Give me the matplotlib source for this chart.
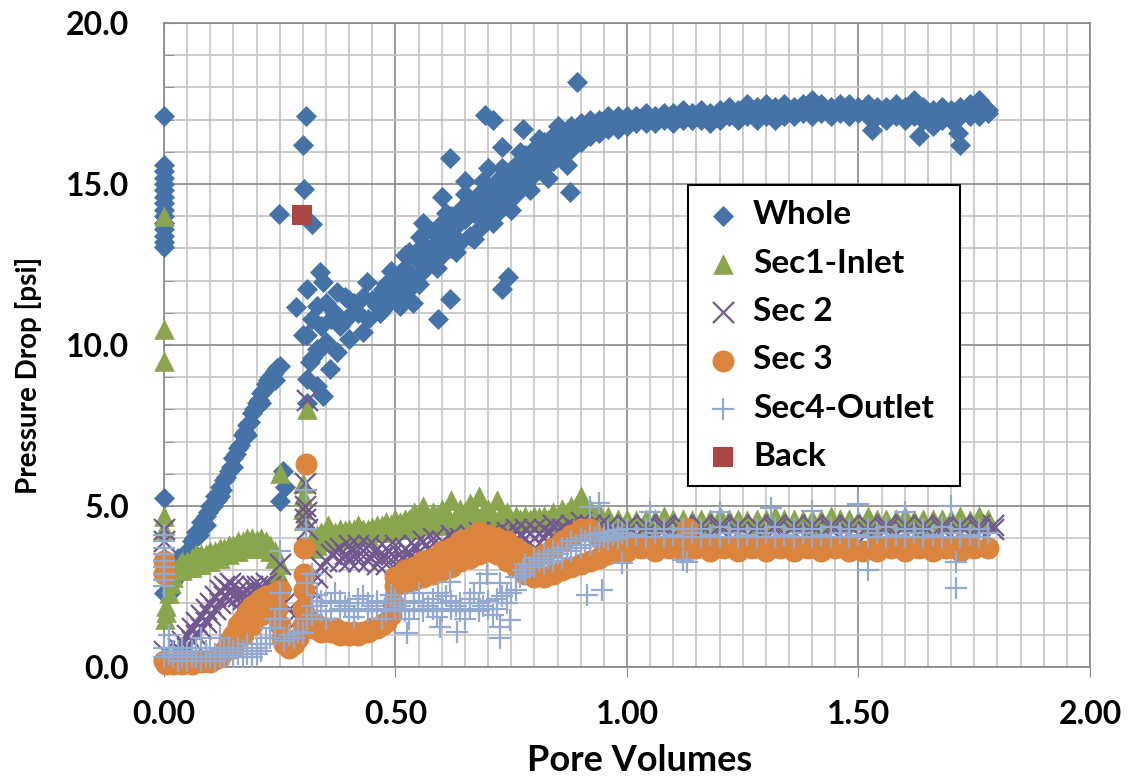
import matplotlib.pyplot as plt
from matplotlib.ticker import MultipleLocator, FormatStrFormatter

# ---- data: (pore volumes, pressure drop psi) ----
whole = [
    # column at x = 0
    (0, 17.1), (0, 15.6), (0, 15.4), (0, 15.2), (0, 15.0), (0, 14.8), (0, 14.6), (0, 14.4), (0, 14.2),
    (0, 14.0), (0, 13.8), (0, 13.6), (0, 13.4), (0, 13.2), (0, 13.05), (0, 5.25), (0, 3.4), (0, 2.3),
    # first ramp
    (0.012, 2.3), (0.018, 2.6), (0.022, 2.9), (0.028, 2.8), (0.032, 3.1), (0.036, 3.0), (0.040, 3.3),
    (0.045, 3.3), (0.050, 3.6), (0.055, 3.6), (0.060, 3.9), (0.065, 4.0), (0.070, 4.2), (0.075, 4.1),
    (0.080, 4.5), (0.085, 4.4), (0.090, 4.7), (0.095, 4.8), (0.100, 5.0), (0.105, 5.0), (0.110, 5.3),
    (0.115, 5.2), (0.120, 5.6), (0.125, 5.5), (0.130, 5.8), (0.135, 5.9), (0.140, 6.1), (0.145, 6.2),
    (0.150, 6.5), (0.155, 6.6), (0.160, 6.8), (0.165, 6.9), (0.170, 7.2), (0.175, 7.3), (0.180, 7.5),
    (0.185, 7.6), (0.190, 7.9), (0.195, 8.0), (0.200, 8.2), (0.205, 8.3), (0.210, 8.5), (0.215, 8.6),
    (0.220, 8.8), (0.225, 8.9), (0.230, 9.0), (0.235, 9.1), (0.240, 9.2), (0.245, 9.3), (0.250, 9.35),
    (0.03, 3.4), (0.06, 3.6), (0.09, 4.4), (0.12, 5.3), (0.15, 6.2), (0.18, 7.2), (0.21, 8.2), (0.24, 8.9),
    # around 0.25 - 0.3
    (0.257, 6.1), (0.261, 5.6), (0.250, 5.15), (0.249, 14.08),
    (0.306, 17.1), (0.300, 16.2), (0.302, 14.86), (0.320, 13.77), (0.337, 12.27),
    (0.286, 11.17), (0.308, 10.3), (0.308, 11.74), (0.344, 11.96), (0.373, 11.64), (0.400, 11.4),
    (0.438, 11.95), (0.473, 11.74), (0.300, 10.3), (0.315, 9.46), (0.308, 8.94), (0.344, 8.42),
    (0.330, 8.73), (0.358, 9.25), (0.373, 9.77), (0.400, 10.2), (0.430, 10.4), (0.330, 9.88), (0.309, 8.2),
    (0.36, 10.8), (0.38, 10.6), (0.40, 10.9), (0.42, 11.0), (0.44, 10.8), (0.46, 11.2), (0.35, 11.3),
    (0.37, 11.0), (0.39, 11.5), (0.41, 11.3), (0.43, 11.5), (0.45, 11.4), (0.47, 11.6), (0.34, 10.6),
    (0.32, 10.8), (0.33, 11.2), (0.35, 10.1), (0.32, 9.6), (0.34, 9.9),
    # main rise
    (0.48, 11.2), (0.48, 11.9), (0.49, 11.7), (0.50, 11.4), (0.50, 12.1), (0.51, 11.9), (0.52, 11.6),
    (0.52, 12.4), (0.53, 12.2), (0.54, 11.9), (0.54, 12.8), (0.55, 12.6), (0.56, 12.3), (0.56, 13.1),
    (0.57, 12.9), (0.58, 12.6), (0.58, 13.5), (0.59, 13.2), (0.60, 12.8), (0.60, 13.8), (0.61, 13.4),
    (0.62, 13.0), (0.62, 14.0), (0.63, 13.7), (0.64, 13.2), (0.64, 14.2), (0.65, 13.9), (0.66, 13.4),
    (0.66, 14.5), (0.67, 14.1), (0.68, 13.6), (0.68, 14.7), (0.69, 14.3), (0.70, 13.9), (0.70, 14.9),
    (0.71, 14.5), (0.72, 14.1), (0.72, 15.1), (0.73, 14.8), (0.74, 14.4), (0.74, 15.3), (0.75, 15.0),
    (0.76, 14.7), (0.76, 15.6), (0.77, 15.3), (0.78, 15.0), (0.78, 15.9), (0.79, 15.6), (0.80, 15.3),
    (0.80, 16.1), (0.81, 15.8), (0.82, 15.5), (0.82, 16.3), (0.83, 16.0), (0.84, 15.7), (0.84, 16.5),
    (0.85, 16.2), (0.86, 15.9), (0.86, 16.6), (0.87, 16.4), (0.88, 16.1), (0.88, 16.8), (0.89, 16.5),
    (0.90, 16.3), (0.90, 16.9), (0.91, 16.7), (0.92, 16.5), (0.92, 17.0), (0.93, 16.8), (0.94, 16.6),
    (0.94, 17.0), (0.95, 16.9), (0.96, 16.7), (0.96, 17.1), (0.97, 16.9), (0.98, 16.7), (0.98, 17.1),
    (0.99, 16.9), (1.00, 16.8), (1.00, 17.1),
    (0.49, 12.3), (0.53, 12.9), (0.57, 13.6), (0.61, 14.1), (0.65, 14.7), (0.69, 15.1), (0.73, 15.5),
    (0.77, 16.0), (0.81, 16.4), (0.85, 16.8), (0.51, 11.2), (0.55, 11.9), (0.59, 12.4), (0.63, 12.9),
    (0.67, 13.3), (0.71, 13.8), (0.75, 14.2), (0.79, 14.8), (0.83, 15.2), (0.87, 15.6),
    # scattered points
    (0.538, 11.3), (0.553, 13.35), (0.592, 10.8), (0.617, 11.43), (0.617, 15.8), (0.693, 17.14),
    (0.70, 15.5), (0.729, 16.16), (0.729, 11.74), (0.743, 12.1), (0.776, 16.7), (0.877, 14.75),
    (0.891, 18.18), (0.466, 11.0), (0.71, 17.0), (0.60, 14.6), (0.65, 15.1), (0.56, 13.8), (0.52, 12.8),
    # plateau
    (1.02, 16.9), (1.02, 17.1), (1.04, 16.9), (1.04, 17.2), (1.06, 16.9), (1.06, 17.1), (1.08, 17.0),
    (1.08, 17.2), (1.10, 16.9), (1.10, 17.2), (1.12, 17.0), (1.12, 17.3), (1.14, 17.0), (1.14, 17.2),
    (1.16, 17.0), (1.16, 17.3), (1.18, 16.9), (1.18, 17.2), (1.20, 17.0), (1.20, 17.3), (1.22, 17.1),
    (1.22, 17.4), (1.24, 17.0), (1.24, 17.3), (1.26, 17.1), (1.26, 17.5), (1.28, 17.0), (1.28, 17.4),
    (1.30, 17.1), (1.30, 17.5), (1.32, 17.0), (1.32, 17.4), (1.34, 17.1), (1.34, 17.5), (1.36, 17.1),
    (1.36, 17.4), (1.38, 17.2), (1.38, 17.5), (1.40, 17.1), (1.40, 17.6), (1.42, 17.2), (1.42, 17.5),
    (1.44, 17.1), (1.44, 17.4), (1.46, 17.2), (1.46, 17.5), (1.48, 17.1), (1.48, 17.5), (1.50, 17.2),
    (1.50, 17.4), (1.52, 17.1), (1.52, 17.5), (1.54, 17.1), (1.54, 17.4), (1.56, 17.0), (1.56, 17.4),
    (1.58, 17.1), (1.58, 17.5), (1.60, 17.0), (1.60, 17.4), (1.62, 17.1), (1.62, 17.6), (1.64, 17.0),
    (1.64, 17.4), (1.66, 16.9), (1.66, 17.3), (1.68, 17.0), (1.68, 17.4), (1.70, 17.0), (1.70, 17.3),
    (1.72, 17.1), (1.72, 17.4), (1.74, 17.1), (1.74, 17.5), (1.76, 17.1), (1.76, 17.6), (1.78, 17.2),
    (1.78, 17.3),
    (1.53, 16.67), (1.63, 16.5), (1.72, 16.2), (1.715, 16.6), (1.66, 16.8),
]

sec1 = [
    (0, 14.0), (0, 10.5), (0, 9.5), (0, 4.7), (0, 4.3), (0.002, 1.5), (0.004, 1.7), (0.005, 1.9),
    (0.010, 2.3), (0.015, 2.6), (0.020, 2.8), (0.025, 3.0), (0.030, 3.1), (0.035, 3.2),
    (0.04, 3.0), (0.04, 3.3), (0.05, 3.1), (0.05, 3.3), (0.06, 3.1), (0.06, 3.4), (0.07, 3.2), (0.07, 3.5),
    (0.08, 3.2), (0.08, 3.5), (0.09, 3.3), (0.09, 3.5), (0.10, 3.3), (0.10, 3.6), (0.11, 3.4), (0.11, 3.6),
    (0.12, 3.4), (0.12, 3.7), (0.13, 3.5), (0.13, 3.7), (0.14, 3.5), (0.14, 3.8), (0.15, 3.6), (0.15, 3.8),
    (0.16, 3.6), (0.16, 3.9), (0.17, 3.7), (0.17, 3.9), (0.18, 3.7), (0.18, 4.0), (0.19, 3.7), (0.19, 4.0),
    (0.20, 3.8), (0.20, 3.95), (0.21, 3.8), (0.21, 4.0), (0.22, 3.7), (0.22, 3.9), (0.23, 3.6), (0.23, 3.8),
    (0.24, 3.4), (0.24, 3.6),
    (0.250, 6.04), (0.255, 2.7), (0.250, 3.2), (0.245, 2.9),
    (0.308, 8.0), (0.300, 5.7), (0.300, 5.3), (0.300, 4.9), (0.302, 4.58),
    (0.32, 3.7), (0.32, 4.0), (0.33, 3.8), (0.33, 4.1), (0.34, 3.9), (0.34, 4.2), (0.35, 3.9), (0.355, 4.4),
    (0.36, 4.0), (0.36, 4.2), (0.38, 4.0), (0.38, 4.3), (0.40, 4.0), (0.40, 4.3), (0.42, 4.1), (0.42, 4.4),
    (0.44, 4.1), (0.44, 4.3), (0.46, 4.2), (0.46, 4.4), (0.48, 4.2), (0.48, 4.5), (0.50, 4.3), (0.50, 4.6),
    (0.52, 4.3), (0.52, 4.6), (0.54, 4.3), (0.54, 4.8), (0.56, 4.4), (0.56, 5.0), (0.58, 4.4), (0.58, 4.8),
    (0.60, 4.4), (0.60, 4.9), (0.62, 4.5), (0.62, 5.2), (0.64, 4.5), (0.64, 4.9), (0.66, 4.5), (0.66, 5.1),
    (0.68, 4.6), (0.68, 5.3), (0.70, 4.5), (0.70, 4.9), (0.72, 4.5), (0.72, 5.2), (0.74, 4.5), (0.74, 4.8),
    (0.76, 4.5), (0.76, 4.7), (0.78, 4.5), (0.78, 4.7), (0.80, 4.5), (0.80, 4.7), (0.82, 4.6), (0.82, 4.7),
    (0.84, 4.5), (0.84, 4.8), (0.86, 4.6), (0.86, 4.9), (0.88, 4.6), (0.88, 5.0), (0.90, 4.7), (0.90, 5.3),
    (0.92, 4.6), (0.92, 4.9), (0.94, 4.6), (0.94, 4.8),
    (0.37, 4.2), (0.39, 4.25), (0.41, 4.3), (0.43, 4.3), (0.45, 4.35), (0.47, 4.4), (0.49, 4.45),
    (0.51, 4.5), (0.53, 4.6), (0.55, 4.7), (0.57, 4.6), (0.59, 4.7), (0.61, 4.8), (0.63, 4.7), (0.65, 4.8),
    (0.67, 4.9), (0.69, 4.8), (0.71, 4.7), (0.73, 4.8), (0.75, 4.6), (0.77, 4.6), (0.79, 4.6), (0.81, 4.65),
    (0.83, 4.6), (0.85, 4.7), (0.87, 4.8), (0.89, 5.0), (0.91, 4.9), (0.93, 4.7),
    (0.96, 4.5), (0.96, 4.7), (1.00, 4.5), (1.00, 4.6), (1.04, 4.4), (1.04, 4.6), (1.08, 4.5), (1.08, 4.7),
    (1.12, 4.5), (1.12, 4.6), (1.16, 4.4), (1.16, 4.6), (1.20, 4.5), (1.20, 4.7), (1.24, 4.5), (1.24, 4.6),
    (1.28, 4.4), (1.28, 4.6), (1.32, 4.5), (1.32, 4.7), (1.36, 4.5), (1.36, 4.6), (1.40, 4.4), (1.40, 4.6),
    (1.44, 4.5), (1.44, 4.7), (1.48, 4.5), (1.48, 4.6), (1.52, 4.4), (1.52, 4.7), (1.56, 4.5), (1.56, 4.6),
    (1.60, 4.5), (1.60, 4.7), (1.64, 4.4), (1.64, 4.6), (1.68, 4.5), (1.68, 4.6), (1.72, 4.5), (1.72, 4.7),
    (1.76, 4.5), (1.76, 4.7), (1.78, 4.5), (1.78, 4.6),
    (0.98, 4.6), (1.02, 4.55), (1.06, 4.6), (1.10, 4.6), (1.14, 4.55), (1.18, 4.6), (1.22, 4.6),
    (1.26, 4.55), (1.30, 4.6), (1.34, 4.6), (1.38, 4.55), (1.42, 4.6), (1.46, 4.6), (1.50, 4.55),
    (1.54, 4.6), (1.58, 4.6), (1.62, 4.55), (1.66, 4.6), (1.70, 4.6), (1.74, 4.55),
]

sec2 = [
    (0, 4.3), (0, 3.9), (0, 0.5),
    (0.03, 0.6), (0.04, 0.8), (0.05, 1.0), (0.06, 1.2), (0.07, 1.4), (0.08, 1.6), (0.09, 1.8), (0.10, 2.0),
    (0.11, 2.2), (0.12, 2.4), (0.05, 0.6), (0.06, 0.8), (0.07, 1.0), (0.08, 1.2), (0.09, 1.4), (0.10, 1.6),
    (0.11, 1.8), (0.12, 2.0),
    (0.13, 2.2), (0.13, 2.5), (0.14, 2.1), (0.14, 2.4), (0.142, 2.6), (0.15, 2.2), (0.15, 2.5), (0.16, 2.2),
    (0.16, 2.4), (0.17, 2.1), (0.17, 2.3), (0.18, 2.2), (0.18, 2.4), (0.19, 2.2), (0.19, 2.5), (0.20, 2.3),
    (0.20, 2.5), (0.21, 2.3), (0.21, 2.5), (0.22, 2.3), (0.22, 2.6), (0.23, 2.2), (0.23, 2.5), (0.24, 2.2),
    (0.24, 2.4),
    (0.25, 3.2), (0.26, 2.0), (0.27, 1.8), (0.28, 1.6), (0.29, 1.5),
    (0.308, 8.3), (0.305, 5.7), (0.305, 5.0), (0.307, 4.8), (0.305, 4.6), (0.31, 4.3),
    (0.31, 2.0), (0.32, 2.4), (0.33, 2.8), (0.34, 3.1), (0.35, 3.3), (0.36, 3.5), (0.37, 3.6),
    (0.38, 3.3), (0.38, 3.7), (0.40, 3.3), (0.40, 3.8), (0.42, 3.3), (0.42, 3.8), (0.44, 3.3), (0.44, 3.8),
    (0.46, 3.2), (0.46, 3.7), (0.48, 3.2), (0.48, 3.7), (0.50, 3.2), (0.50, 3.8), (0.52, 3.3), (0.52, 3.7),
    (0.54, 3.3), (0.54, 3.8), (0.56, 3.4), (0.56, 3.9), (0.58, 3.5), (0.58, 4.0), (0.60, 3.5), (0.60, 3.9),
    (0.62, 3.6), (0.62, 4.1), (0.64, 3.6), (0.64, 4.0), (0.66, 3.7), (0.66, 4.1), (0.68, 3.7), (0.68, 4.2),
    (0.70, 3.8), (0.70, 4.1), (0.72, 3.8), (0.72, 4.2), (0.74, 3.9), (0.74, 4.2), (0.76, 3.9), (0.76, 4.3),
    (0.78, 4.0), (0.78, 4.3), (0.80, 4.0), (0.80, 4.3), (0.82, 4.0), (0.82, 4.3), (0.84, 4.1), (0.84, 4.4),
    (0.86, 4.1), (0.86, 4.3), (0.88, 4.1), (0.88, 4.4), (0.90, 4.2), (0.90, 4.5), (0.92, 4.2), (0.92, 4.4),
    (0.94, 4.2), (0.94, 4.4),
    (0.39, 3.5), (0.41, 3.55), (0.43, 3.6), (0.45, 3.5), (0.47, 3.45), (0.49, 3.5), (0.51, 3.5),
    (0.53, 3.55), (0.55, 3.6), (0.57, 3.7), (0.59, 3.75), (0.61, 3.8), (0.63, 3.85), (0.65, 3.9),
    (0.67, 3.9), (0.69, 3.95), (0.71, 4.0), (0.73, 4.05), (0.75, 4.1), (0.77, 4.1), (0.79, 4.15),
    (0.81, 4.15), (0.83, 4.2), (0.85, 4.25), (0.87, 4.25), (0.89, 4.3), (0.91, 4.3), (0.93, 4.3),
    (0.96, 4.2), (0.96, 4.4), (1.00, 4.2), (1.00, 4.4), (1.04, 4.2), (1.04, 4.4), (1.08, 4.3), (1.08, 4.4),
    (1.12, 4.2), (1.12, 4.4), (1.16, 4.2), (1.16, 4.4), (1.20, 4.3), (1.20, 4.4), (1.24, 4.2), (1.24, 4.4),
    (1.28, 4.2), (1.28, 4.4), (1.32, 4.3), (1.32, 4.4), (1.36, 4.2), (1.36, 4.4), (1.40, 4.2), (1.40, 4.4),
    (1.44, 4.3), (1.44, 4.4), (1.48, 4.2), (1.48, 4.4), (1.52, 4.2), (1.52, 4.4), (1.56, 4.3), (1.56, 4.4),
    (1.60, 4.2), (1.60, 4.4), (1.64, 4.2), (1.64, 4.4), (1.68, 4.3), (1.68, 4.4), (1.72, 4.2), (1.72, 4.4),
    (1.76, 4.3), (1.76, 4.4), (1.79, 4.3), (1.79, 4.4),
]

sec3 = [
    (0, 3.3), (0, 2.9), (0, 0.2), (0.005, 0.1),
    (0.02, 0.1), (0.03, 0.2), (0.04, 0.1), (0.05, 0.2), (0.06, 0.1), (0.07, 0.2), (0.08, 0.15), (0.09, 0.2),
    (0.10, 0.15), (0.11, 0.25), (0.12, 0.3),
    (0.13, 0.5), (0.14, 0.8), (0.15, 1.0), (0.16, 1.3), (0.17, 1.5), (0.18, 1.7), (0.19, 1.9), (0.20, 2.0),
    (0.21, 2.1), (0.22, 2.2), (0.23, 2.2), (0.24, 2.3), (0.25, 2.4),
    (0.15, 0.6), (0.17, 1.0), (0.19, 1.3), (0.21, 1.6), (0.23, 1.8),
    (0.245, 1.8), (0.25, 1.3), (0.255, 0.9), (0.26, 0.7), (0.27, 0.6), (0.28, 0.7), (0.29, 0.9), (0.30, 1.3),
    (0.30, 1.8), (0.302, 2.4), (0.302, 2.9), (0.302, 3.7), (0.306, 6.3),
    (0.31, 1.5), (0.32, 1.2), (0.33, 1.3), (0.34, 1.1), (0.35, 1.2), (0.36, 1.1), (0.37, 1.2), (0.38, 1.0),
    (0.39, 1.1), (0.40, 1.0), (0.41, 1.1), (0.42, 1.0), (0.43, 1.1), (0.44, 1.1), (0.45, 1.2), (0.46, 1.2),
    (0.47, 1.3), (0.48, 1.4), (0.49, 1.6), (0.495, 2.0),
    (0.50, 2.5), (0.50, 2.8), (0.52, 2.6), (0.52, 3.0), (0.54, 2.7), (0.54, 3.1), (0.56, 2.8), (0.56, 3.3),
    (0.58, 2.9), (0.58, 3.4), (0.60, 3.0), (0.60, 3.6), (0.62, 3.1), (0.62, 3.7), (0.64, 3.3), (0.64, 3.9),
    (0.66, 3.4), (0.66, 4.0), (0.68, 3.5), (0.68, 4.2), (0.70, 3.6), (0.70, 4.1), (0.72, 3.5), (0.72, 4.0),
    (0.74, 3.3), (0.74, 3.9), (0.76, 3.1), (0.76, 3.7), (0.78, 2.9), (0.78, 3.5), (0.80, 2.8), (0.80, 3.4),
    (0.82, 2.8), (0.82, 3.5), (0.84, 2.9), (0.84, 3.7), (0.86, 3.0), (0.86, 3.9), (0.88, 3.1), (0.88, 4.1),
    (0.90, 3.2), (0.90, 4.3), (0.92, 3.3), (0.92, 4.3), (0.94, 3.4), (0.94, 4.0), (0.96, 3.5), (0.96, 3.8),
    (0.98, 3.6), (0.98, 3.8), (1.13, 4.3),
    (0.51, 2.75), (0.53, 2.9), (0.55, 3.0), (0.57, 3.2), (0.59, 3.3), (0.61, 3.45), (0.63, 3.6),
    (0.65, 3.75), (0.67, 3.85), (0.69, 3.95), (0.71, 3.85), (0.73, 3.7), (0.75, 3.5), (0.77, 3.3),
    (0.79, 3.15),
    (1.00, 3.6), (1.00, 3.8), (1.03, 3.7), (1.06, 3.6), (1.06, 3.8), (1.09, 3.7), (1.12, 3.6), (1.12, 3.8),
    (1.15, 3.7), (1.18, 3.6), (1.18, 3.8), (1.21, 3.7), (1.24, 3.6), (1.24, 3.8), (1.27, 3.7), (1.30, 3.6),
    (1.30, 3.8), (1.33, 3.7), (1.36, 3.6), (1.36, 3.8), (1.39, 3.7), (1.42, 3.6), (1.42, 3.8), (1.45, 3.7),
    (1.48, 3.6), (1.48, 3.8), (1.51, 3.6), (1.54, 3.6), (1.54, 3.8), (1.57, 3.7), (1.60, 3.6), (1.60, 3.8),
    (1.63, 3.7), (1.66, 3.6), (1.66, 3.8), (1.69, 3.7), (1.72, 3.6), (1.72, 3.8), (1.75, 3.7), (1.78, 3.7),
]

sec4 = [
    (0, 4.1), (0, 3.9), (0, 3.7), (0, 3.5), (0, 3.3), (0, 3.1), (0, 2.9), (0, 2.7), (0, 2.5),
    (0.00, 0.3), (0.00, 0.6), (0.01, 0.4), (0.01, 1.0), (0.02, 0.3), (0.02, 0.5), (0.03, 0.2), (0.03, 0.5),
    (0.04, 0.3), (0.04, 0.6), (0.05, 0.2), (0.05, 0.4), (0.06, 0.3), (0.06, 0.5), (0.07, 0.3), (0.07, 0.6),
    (0.08, 0.2), (0.08, 0.9), (0.09, 0.3), (0.09, 0.5), (0.10, 0.3), (0.10, 0.6), (0.11, 0.2), (0.11, 0.4),
    (0.12, 0.3), (0.12, 0.9), (0.13, 0.3), (0.13, 0.5), (0.14, 0.4), (0.14, 0.6), (0.15, 0.3), (0.15, 0.5),
    (0.16, 0.4), (0.16, 0.6), (0.17, 0.3), (0.17, 0.5), (0.18, 0.4), (0.18, 0.7), (0.19, 0.3), (0.19, 0.5),
    (0.20, 0.4), (0.20, 0.6), (0.21, 0.5), (0.21, 0.7), (0.22, 0.7), (0.22, 0.9), (0.23, 0.9), (0.23, 1.2),
    (0.24, 1.2), (0.24, 1.5), (0.25, 1.5), (0.25, 1.8), (0.25, 2.3), (0.25, 3.6),
    (0.26, 0.8), (0.27, 1.0), (0.28, 0.9), (0.29, 1.1),
    (0.306, 5.5), (0.306, 4.27), (0.319, 2.9), (0.31, 2.6), (0.33, 2.24), (0.30, 1.05), (0.31, 1.5),
    (0.32, 1.6), (0.32, 1.9), (0.34, 1.75), (0.34, 2.05), (0.36, 1.75), (0.36, 2.0), (0.38, 1.8), (0.38, 2.05),
    (0.40, 1.75), (0.40, 2.0), (0.42, 1.8), (0.42, 2.1), (0.44, 1.75), (0.44, 2.0), (0.46, 1.8), (0.46, 2.05),
    (0.48, 1.75), (0.48, 2.0), (0.50, 1.8), (0.50, 2.1), (0.52, 1.75), (0.52, 2.0), (0.54, 1.8), (0.54, 2.05),
    (0.56, 1.75), (0.56, 2.0), (0.58, 1.8), (0.58, 2.1), (0.60, 1.75), (0.60, 2.0), (0.62, 1.8), (0.62, 2.05),
    (0.64, 1.75), (0.64, 2.0), (0.66, 1.8), (0.66, 2.1), (0.68, 1.75), (0.68, 2.0), (0.70, 1.8), (0.70, 2.05),
    (0.72, 1.8), (0.72, 2.1), (0.74, 2.0), (0.74, 2.3), (0.76, 2.4), (0.76, 2.8), (0.78, 2.9), (0.78, 3.2),
    (0.80, 3.1), (0.80, 3.4), (0.82, 3.2), (0.82, 3.5), (0.84, 3.3), (0.84, 3.6), (0.86, 3.4), (0.86, 3.7),
    (0.88, 3.6), (0.88, 3.9), (0.90, 3.7), (0.90, 4.0), (0.92, 3.8), (0.92, 4.1), (0.94, 3.9), (0.94, 4.15),
    (0.96, 3.95), (0.96, 4.2), (0.98, 4.0), (0.98, 4.25),
    (0.33, 1.9), (0.35, 1.5), (0.37, 2.3), (0.39, 1.9), (0.41, 1.55), (0.43, 2.2), (0.45, 1.9), (0.47, 1.5),
    (0.49, 2.25), (0.51, 1.9), (0.53, 1.5), (0.55, 2.3), (0.57, 1.9), (0.59, 1.55), (0.61, 2.2), (0.63, 1.9),
    (0.65, 1.5), (0.67, 2.3), (0.69, 1.9), (0.71, 1.6), (0.73, 2.2),
    (0.75, 2.3), (0.77, 2.8), (0.79, 3.1), (0.81, 3.3), (0.83, 3.4), (0.85, 3.5), (0.87, 3.7), (0.89, 3.8),
    (0.91, 3.9), (0.93, 4.0), (0.95, 4.05), (0.97, 4.1), (0.99, 4.15),
    (1.00, 4.05), (1.00, 4.3), (1.02, 4.1), (1.04, 4.05), (1.04, 4.3), (1.06, 4.15), (1.08, 4.05), (1.08, 4.3),
    (1.10, 4.1), (1.12, 4.05), (1.12, 4.3), (1.14, 4.15), (1.16, 4.05), (1.16, 4.3), (1.18, 4.1),
    (1.20, 4.05), (1.20, 4.35), (1.22, 4.15), (1.24, 4.05), (1.24, 4.3), (1.26, 4.1), (1.28, 4.05),
    (1.28, 4.3), (1.30, 4.15), (1.32, 4.05), (1.32, 4.35), (1.34, 4.1), (1.36, 4.05), (1.36, 4.3),
    (1.38, 4.15), (1.40, 4.05), (1.40, 4.3), (1.42, 4.1), (1.44, 4.05), (1.44, 4.35), (1.46, 4.15),
    (1.48, 4.05), (1.48, 4.3), (1.50, 4.1), (1.52, 4.05), (1.52, 4.3), (1.54, 4.15), (1.56, 4.05),
    (1.56, 4.35), (1.58, 4.1), (1.60, 4.05), (1.60, 4.3), (1.62, 4.15), (1.64, 4.05), (1.64, 4.3),
    (1.66, 4.1), (1.68, 4.05), (1.68, 4.35), (1.70, 4.15), (1.72, 4.05), (1.72, 4.3), (1.74, 4.1),
    (1.76, 4.05), (1.76, 4.3), (1.78, 4.15),
    # scattered points
    (0.524, 1.06), (0.596, 1.25), (0.632, 1.1), (0.725, 1.25), (0.725, 0.9), (0.747, 1.46), (0.592, 2.3),
    (0.617, 2.65), (0.682, 2.6), (0.697, 2.9), (0.725, 2.6), (0.776, 3.0), (0.913, 2.24), (0.946, 2.4),
    (0.92, 4.98), (0.94, 5.1), (0.99, 3.24), (1.12, 3.33), (1.13, 3.27), (1.52, 3.02), (1.71, 2.46),
    (1.71, 3.27), (1.50, 5.05), (1.70, 5.0), (1.31, 4.95), (1.05, 4.8), (1.20, 4.8), (1.40, 4.85),
    (1.60, 4.8),
]

back = [(0.298, 14.05)]

series = [
    ("Whole", whole, "D", "#4572A7", 115),
    ("Sec1-Inlet", sec1, "^", "#89A54E", 220),
    ("Sec 2", sec2, "x", "#71588F", 230),
    ("Sec 3", sec3, "o", "#DB843D", 250),
    ("Sec4-Outlet", sec4, "+", "#93A9CF", 230),
    ("Back", back, "s", "#AA4643", 210),
]

plt.rcParams['font.family'] = ['Lato', 'DejaVu Sans']
plt.rcParams['font.weight'] = 'bold'

fig = plt.figure(figsize=(11.3, 7.78), dpi=100)
ax = fig.add_axes([0.1451, 0.1427, 0.8195, 0.8277])

for i, (name, pts, mk, col, size) in enumerate(series):
    xs = [p[0] for p in pts]
    ys = [p[1] for p in pts]
    if mk in ("x", "+"):
        ax.scatter(xs, ys, marker=mk, s=size, color=col, linewidths=1.6, label=name,
                   zorder=3 + i, clip_on=False)
    else:
        ax.scatter(xs, ys, marker=mk, s=size, color=col, linewidths=0, label=name,
                   zorder=3 + i, clip_on=False)

ax.set_xlim(0, 2.0)
ax.set_ylim(0, 20.0)
ax.xaxis.set_major_locator(MultipleLocator(0.5))
ax.xaxis.set_minor_locator(MultipleLocator(0.05))
ax.yaxis.set_major_locator(MultipleLocator(5))
ax.yaxis.set_minor_locator(MultipleLocator(1))
ax.xaxis.set_major_formatter(FormatStrFormatter('%.2f'))
ax.yaxis.set_major_formatter(FormatStrFormatter('%.1f'))

ax.set_axisbelow(True)
ax.grid(which='major', color='#888888', linewidth=1.2)
ax.grid(which='minor', color='#C4C4C4', linewidth=1.2)
for sp in ax.spines.values():
    sp.set_color('#888888')
    sp.set_linewidth(1.2)

ax.tick_params(axis='x', which='major', direction='out', length=7, color='#888888', pad=17, labelsize=23)
ax.tick_params(axis='x', which='minor', length=0)
ax.tick_params(axis='y', which='major', direction='in', length=7, color='#888888', pad=25, labelsize=23)
ax.tick_params(axis='y', which='minor', direction='in', length=7, color='#888888')

ax.set_xlabel("Pore Volumes", fontsize=26, fontweight='bold')
ax.set_ylabel("Pressure Drop [psi]", fontsize=20, fontweight='bold')
ax.xaxis.set_label_coords(0.514, -0.1615)
ax.xaxis.label.set_verticalalignment('baseline')
ax.yaxis.set_label_coords(-0.132, 0.453)

leg = ax.legend(loc='upper left', bbox_to_anchor=(0.566, 0.289, 0.2937, 0.459), mode='expand',
                fontsize=24, frameon=True, fancybox=False, edgecolor='black', framealpha=1,
                labelspacing=0.58, handletextpad=0.3, borderpad=0.45, handlelength=1.2,
                borderaxespad=0)
leg.get_frame().set_linewidth(1.5)
leg.set_zorder(20)

fig.savefig("out.png", dpi=100)
